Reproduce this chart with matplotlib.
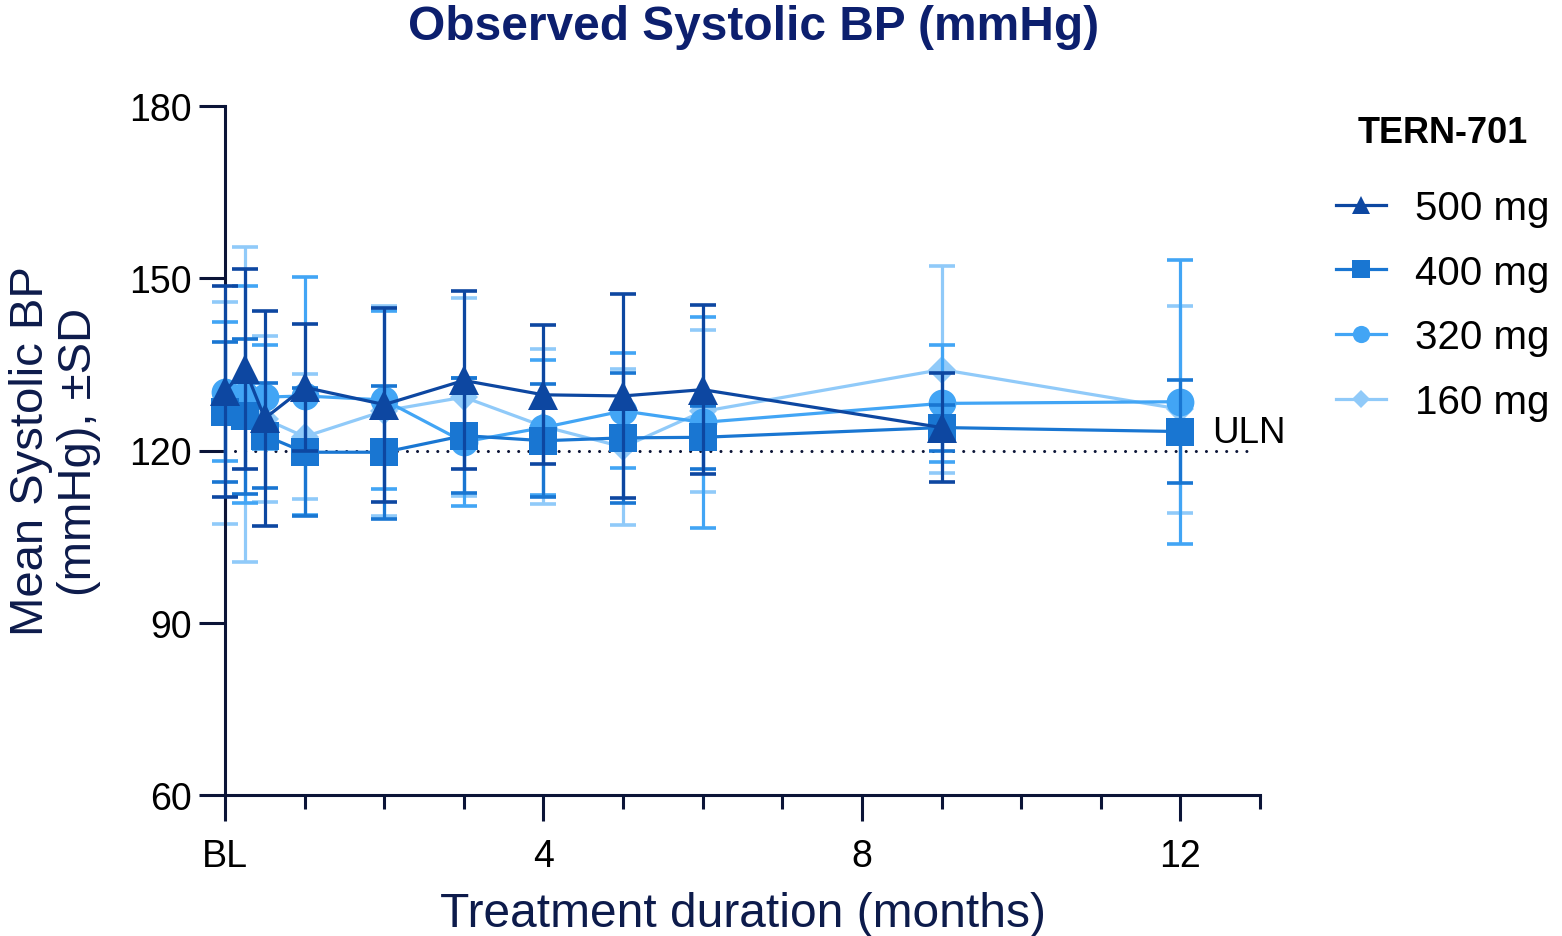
import matplotlib
matplotlib.use("Agg")
import matplotlib.pyplot as plt
from matplotlib.ticker import FixedLocator
from matplotlib.lines import Line2D

plt.rcParams['font.family'] = ['Liberation Sans', 'DejaVu Sans']

# ---- data ----
months_all = [0, 0.25, 0.5, 1, 2, 3, 4, 5, 6, 9, 12]
months_500 = [0, 0.25, 0.5, 1, 2, 3, 4, 5, 6, 9]

mean_500 = [130.3, 134.2, 125.6, 131.0, 128.0, 132.2, 129.7, 129.5, 130.6, 124.0]
sd_500 = [18.4, 17.4, 18.7, 11.0, 16.9, 15.5, 12.1, 17.7, 14.7, 9.5]

mean_400 = [126.7, 126.0, 122.6, 119.7, 119.7, 122.6, 121.7, 122.2, 122.3, 124.0, 123.3]
sd_400 = [12.2, 13.5, 9.1, 11.1, 11.6, 10.0, 9.8, 11.3, 5.5, 4.0, 8.9]

mean_320 = [130.2, 129.7, 129.3, 129.5, 128.8, 121.5, 124.0, 126.9, 124.9, 128.2, 128.5]
sd_320 = [12.1, 18.9, 9.0, 20.7, 15.5, 11.2, 11.8, 10.0, 18.4, 10.2, 24.7]

mean_160 = [126.5, 128.0, 125.5, 122.4, 126.9, 129.3, 124.2, 120.6, 126.8, 134.1, 127.2]
sd_160 = [19.3, 27.4, 14.4, 10.9, 18.3, 17.2, 13.5, 13.6, 14.1, 18.1, 18.0]

uln = 120
x_major = [0, 4, 8, 12]
x_major_labels = ['BL', '4', '8', '12']
x_minor = [1, 2, 3, 5, 6, 7, 9, 10, 11, 13]
y_ticks = [60, 90, 120, 150, 180]

# ---- style ----
navy = '#0b1437'
title_col = '#0c1f6e'
label_col = '#0d1b4b'
series = [
    ('160 mg', months_all, mean_160, sd_160, '#90caf9', 'D', 14, 2),
    ('320 mg', months_all, mean_320, sd_320, '#42a5f5', 'o', 20, 3),
    ('400 mg', months_all, mean_400, sd_400, '#1976d2', 's', 20, 4),
    ('500 mg', months_500, mean_500, sd_500, '#0d47a1', '^', 21, 5),
]

fig = plt.figure(figsize=(15.62, 9.37), dpi=100)
ax = fig.add_axes([225 / 1562, 1 - 796 / 937, (1260 - 225) / 1562, (796 - 107) / 937])

handles = {}
for name, xs, m, s, col, mk, ms, z in series:
    ln, = ax.plot(xs, m, color=col, lw=2.3, marker=mk, ms=ms, mec=col, mew=0,
                  zorder=z, clip_on=False)
    ax.errorbar(xs, m, yerr=s, fmt='none', ecolor=col, elinewidth=2.3,
                capsize=9.5, capthick=2.6, zorder=z + 0.5, clip_on=False)
    handles[name] = (col, mk, ms)

ax.plot([0.12, 12.9], [uln, uln], color=navy, lw=2.2, linestyle=(0, (0.01, 3.3)),
        dash_capstyle='round', zorder=1.5)
ax.text(12.4, 123.2, 'ULN', fontsize=26.5, ha='left', va='center', color='black')

ax.set_xlim(0, 13)
ax.set_ylim(60, 180)
for sp in ['top', 'right']:
    ax.spines[sp].set_visible(False)
for sp in ['left', 'bottom']:
    ax.spines[sp].set_color(navy)
    ax.spines[sp].set_linewidth(2.2)

ax.set_yticks(y_ticks)
ax.set_yticklabels([str(v) for v in y_ticks])
ax.set_xticks(x_major)
ax.set_xticklabels(x_major_labels)
ax.xaxis.set_minor_locator(FixedLocator(x_minor))
ax.tick_params(axis='both', which='major', length=19, width=2.2, color=navy,
               labelsize=27, labelcolor='black')
ax.tick_params(axis='y', which='major', pad=5)
ax.tick_params(axis='x', which='major', pad=12)
ax.tick_params(axis='x', which='minor', length=10, width=2.2, color=navy)

ax.set_xlabel('Treatment duration (months)', fontsize=34.5, color=label_col, labelpad=12)
ax.set_ylabel('Mean Systolic BP\n(mmHg), \u00b1SD', fontsize=34, color=label_col,
              labelpad=20, linespacing=1.12)

fig.text(754 / 1562, 1 - 27 / 937, 'Observed Systolic BP (mmHg)', fontsize=34.5,
         fontweight='bold', color=title_col, ha='center', va='center')

leg_handles = []
leg_labels = []
for name in ['500 mg', '400 mg', '320 mg', '160 mg']:
    col, mk, ms = handles[name]
    leg_handles.append(Line2D([], [], color=col, lw=2.3, marker=mk, ms=ms * 0.62, mew=0))
    leg_labels.append(name)
leg = fig.legend(leg_handles, leg_labels, loc='upper left',
                 bbox_to_anchor=(1320 / 1562, 1 - 100 / 937), frameon=False,
                 fontsize=29, title='TERN-701',
                 title_fontproperties={'weight': 'bold', 'size': 26},
                 handlelength=1.25, handletextpad=0.72, labelspacing=0.66,
                 borderaxespad=0)
leg._legend_box.sep = 28

fig.savefig('out.png', dpi=100)
